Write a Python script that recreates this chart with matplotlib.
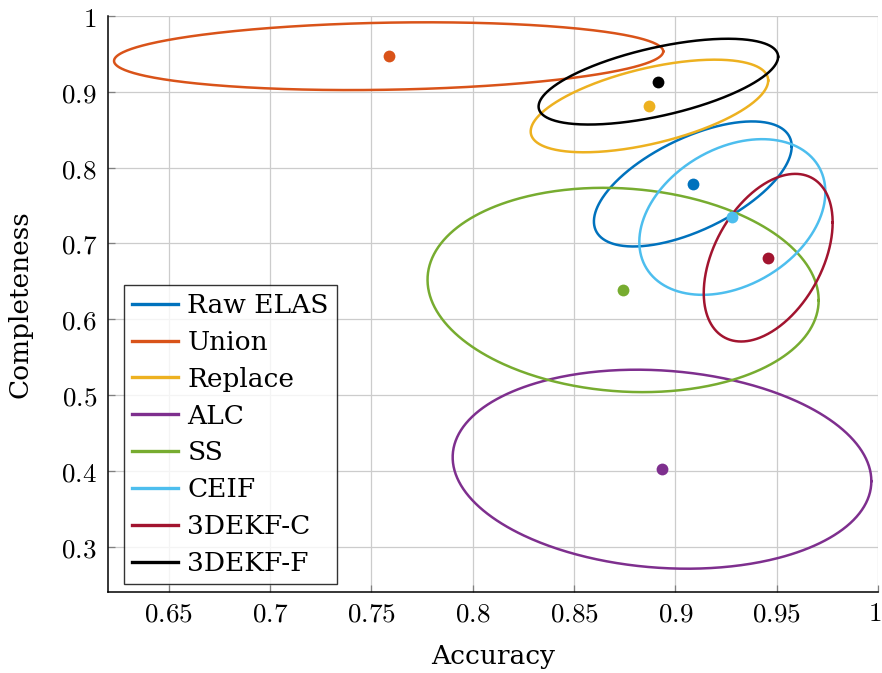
import numpy as np
import matplotlib
matplotlib.use("Agg")
import matplotlib.pyplot as plt
from matplotlib.transforms import ScaledTranslation

# Methods and their colours
methods = ["Raw ELAS", "Union", "Replace", "ALC", "SS", "CEIF", "3DEKF-C", "3DEKF-F"]
colors = ["#0072BD", "#D95319", "#EDB120", "#7E2F8E", "#77AC30", "#4DBEEE", "#A2142F", "#000000"]

# Mean accuracy / completeness per method
mean_acc = [0.9086, 0.7585, 0.8872, 0.8934, 0.8742, 0.9281, 0.9458, 0.8916]
mean_comp = [0.7784, 0.9470, 0.8813, 0.4020, 0.6385, 0.7348, 0.6811, 0.9134]

# Spread of each method: half-extent along accuracy, half-extent along
# completeness, and the correlation between the two
spread_acc = [0.0488, 0.1355, 0.0586, 0.1033, 0.0965, 0.0459, 0.0318, 0.0591]
spread_comp = [0.0825, 0.0447, 0.0611, 0.1313, 0.1348, 0.1027, 0.1106, 0.0566]
correlation = [0.60, 0.14, 0.55, -0.12, -0.10, 0.32, 0.42, 0.58]

x_ticks = [0.65, 0.7, 0.75, 0.8, 0.85, 0.9, 0.95, 1.0]
y_ticks = [0.3, 0.4, 0.5, 0.6, 0.7, 0.8, 0.9, 1.0]

plt.rcParams["font.family"] = ["DejaVu Serif"]
plt.rcParams["mathtext.fontset"] = "cm"

fig = plt.figure(figsize=(8.82, 6.73), dpi=100)
ax = fig.add_axes([0.1224, 0.1204, 0.8731, 0.8558])

t = np.linspace(0, 2 * np.pi, 500)
for name, c, mx, my, sx, sy, r in zip(methods, colors, mean_acc, mean_comp,
                                      spread_acc, spread_comp, correlation):
    phi = np.arccos(r)
    ax.plot(mx + sx * np.cos(t), my + sy * np.cos(t + phi),
            color=c, lw=1.8, label=name, zorder=3)

for c, mx, my in zip(colors, mean_acc, mean_comp):
    ax.plot([mx], [my], "o", color=c, ms=8.5, mec="none", zorder=4)

ax.set_xlim(0.62, 1.0)
ax.set_ylim(0.24, 1.0)
ax.set_xticks(x_ticks)
ax.set_yticks(y_ticks)
ax.set_xticklabels(["$%g$" % v for v in x_ticks])
ax.set_yticklabels(["$%g$" % v for v in y_ticks])
ax.grid(True, color="#cccccc", lw=0.9, zorder=0)
ax.set_axisbelow(True)
ax.tick_params(direction="in", length=5, width=0.9, color="#808080",
               labelsize=19.5, top=False, right=False)
ax.tick_params(axis="x", pad=6)
ax.tick_params(axis="y", pad=8)

# keep the rightmost accuracy label inside the canvas
last = ax.get_xticklabels()[-1]
last.set_transform(last.get_transform() + ScaledTranslation(-3 / 100, 0, fig.dpi_scale_trans))

for side in ("top", "right"):
    ax.spines[side].set_visible(False)
for side in ("left", "bottom"):
    ax.spines[side].set_linewidth(1.1)
    ax.spines[side].set_color("black")

ax.set_xlabel("Accuracy", fontsize=19, labelpad=12)
ax.set_ylabel("Completeness", fontsize=19, labelpad=20)

leg = ax.legend(loc="upper left", bbox_to_anchor=(0.0208, 0.533),
                borderaxespad=0, fontsize=19, frameon=True, fancybox=False,
                edgecolor="black", handlelength=1.75, handletextpad=0.35,
                labelspacing=0.45, borderpad=0.3)
leg.get_frame().set_linewidth(1.0)
for line in leg.get_lines():
    line.set_linewidth(2.4)

fig.savefig("out.png", dpi=100)
